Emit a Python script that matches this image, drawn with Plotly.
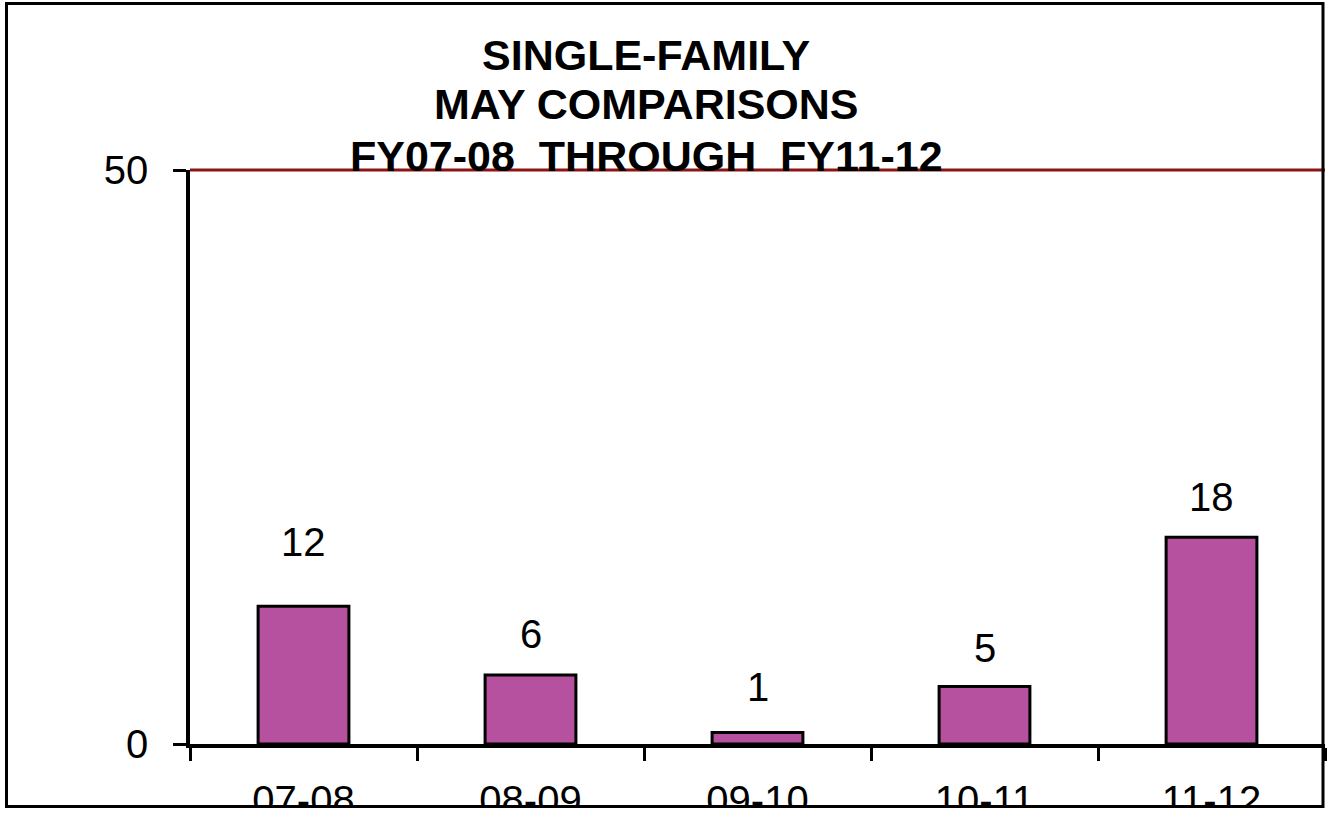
import plotly.graph_objects as go

categories = ["07-08", "08-09", "09-10", "10-11", "11-12"]
values = [12, 6, 1, 5, 18]
y_ticks = [0, 50]
title_lines = ["SINGLE-FAMILY", "MAY COMPARISONS", "FY07-08  THROUGH  FY11-12"]

# style / layout helpers (pixels)
W, H = 1328, 813
L, R, T, B = 190, 3, 170, 69
PW, PH = W - L - R, H - T - B
label_shift = [64, 41, 46, 39, 40]


def px_x(x):
    return (x - L) / PW


def px_y(y):
    return (H - B - y) / PH


FONT = "Liberation Sans, Arial, sans-serif"

fig = go.Figure()
fig.add_trace(go.Bar(
    x=categories, y=values,
    marker=dict(color="#B5519E", line=dict(color="black", width=3)),
    width=0.4,
    hoverinfo="x+y",
))

annotations = []
for c, v, s in zip(categories, values, label_shift):
    annotations.append(dict(x=c, y=v, xref="x", yref="y", text=str(v),
                            showarrow=False, yanchor="middle", yshift=s,
                            font=dict(family=FONT, size=40, color="black")))

title_centers = [55, 104, 156]
for line, cy in zip(title_lines, title_centers):
    annotations.append(dict(x=px_x(646), y=px_y(cy), xref="paper", yref="paper",
                            text="<b>" + line.replace("  ", "&nbsp; ") + "</b>",
                            showarrow=False, xanchor="center", yanchor="middle",
                            font=dict(family=FONT, size=43, color="black")))

shapes = [
    # top value line (dark red) along the top of the value axis (y = 50)
    dict(type="line", xref="paper", yref="paper", layer="below",
         x0=0, x1=1, y0=1, y1=1,
         line=dict(color="#8B1515", width=3)),
    # white strip clipping the bottom of the tick labels
    dict(type="rect", xref="paper", yref="paper", layer="above",
         x0=px_x(0), x1=px_x(W), y0=px_y(807), y1=px_y(H + 5),
         fillcolor="white", line=dict(width=0)),
    # outer frame
    dict(type="rect", xref="paper", yref="paper", layer="above",
         x0=px_x(6.5), x1=px_x(1323), y0=px_y(806.5), y1=px_y(3.5),
         fillcolor="rgba(0,0,0,0)", line=dict(color="black", width=3)),
]

fig.update_layout(
    width=W, height=H,
    margin=dict(l=L, r=R, t=T, b=B, autoexpand=False),
    paper_bgcolor="white", plot_bgcolor="white",
    showlegend=False,
    annotations=annotations,
    shapes=shapes,
    font=dict(family=FONT, size=40, color="black"),
)
fig.update_xaxes(
    type="category", range=[-0.5, 4.5], automargin=False,
    showline=True, linecolor="black", linewidth=3.5,
    ticks="outside", tickson="boundaries", ticklen=13, tickwidth=2.5, tickcolor="black",
    showgrid=False, zeroline=False,
    tickfont=dict(family=FONT, size=40, color="black"),
    ticklabelstandoff=18,
)
fig.update_yaxes(
    range=[0, 50], tickvals=y_ticks, automargin=False,
    showline=True, linecolor="black", linewidth=3.5,
    ticks="outside", ticklen=13, tickwidth=2.5, tickcolor="black",
    showgrid=False, zeroline=False,
    tickfont=dict(family=FONT, size=40, color="black"),
    ticklabelstandoff=17,
)

fig.write_html("out.html", config={"displayModeBar": False},
               post_script="document.body.style.margin='0';document.body.style.overflow='hidden';")
